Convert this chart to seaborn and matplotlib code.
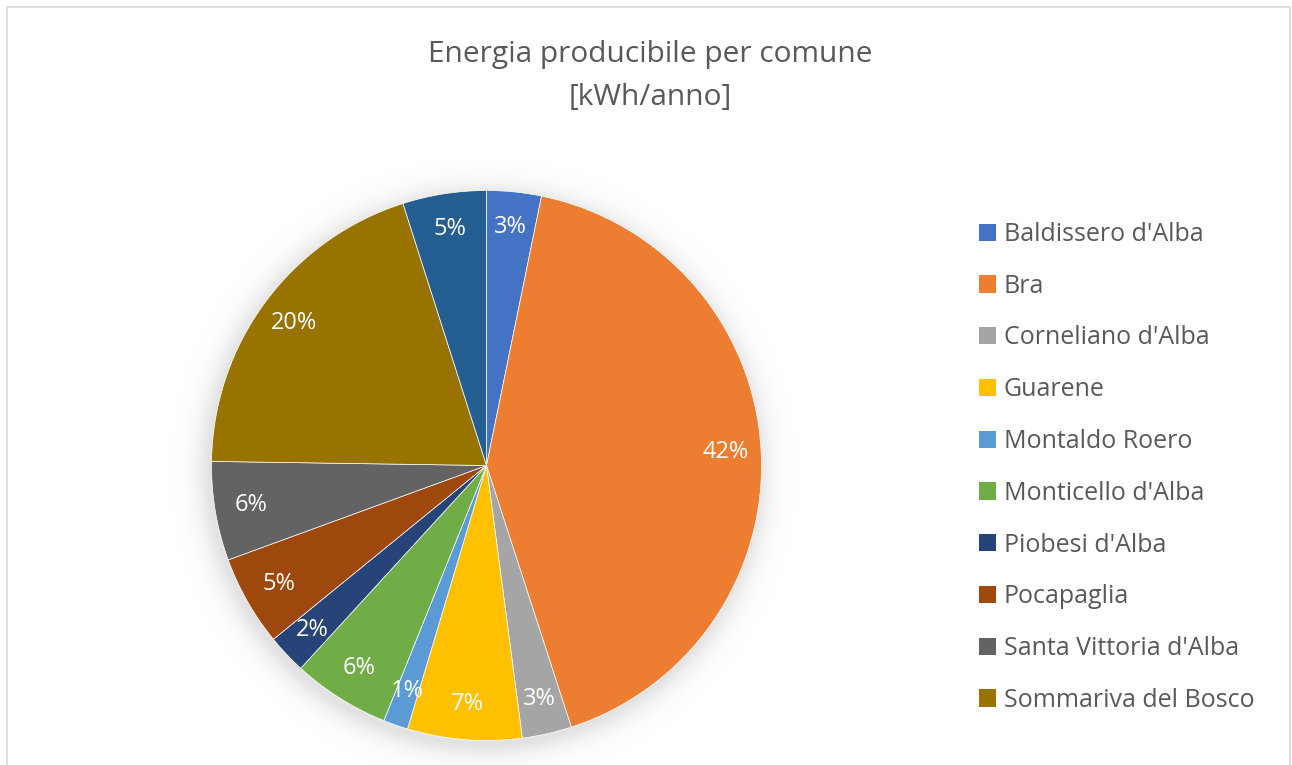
import numpy as np
import matplotlib
matplotlib.use("Agg")
import matplotlib.pyplot as plt
import matplotlib.patches as mpatches
import seaborn as sns

categories = ["Baldissero d'Alba", "Bra", "Corneliano d'Alba", "Guarene",
              "Montaldo Roero", "Monticello d'Alba", "Piobesi d'Alba",
              "Pocapaglia", "Santa Vittoria d'Alba", "Sommariva del Bosco",
              "Sommariva Perno"]
values = [3.2, 41.7, 2.9, 6.7, 1.45, 5.7, 2.3, 5.3, 5.8, 19.8, 4.9]
legend_shown = 10
title_text = "Energia producibile per comune\n[kWh/anno]"

colors = ["#4472C4", "#ED7D31", "#A5A5A5", "#FFC000", "#5B9BD5", "#70AD47",
          "#264478", "#9E480E", "#636363", "#997300", "#255E91"]

sns.set_theme(style="white")
palette = sns.color_palette(colors)
FONT = ["Open Sans", "DejaVu Sans"]
plt.rcParams['font.family'] = FONT
TXT = "#595959"

W, H = 1292, 765
fig = plt.figure(figsize=(W / 100, H / 100), dpi=100)
fig.patch.set_facecolor("white")

# chart border
fig.patches.append(mpatches.Rectangle((7 / W, -0.01), (1290 - 7) / W, (H - 7) / H + 0.01,
                                      transform=fig.transFigure, fill=False,
                                      edgecolor="#D9D9D9", linewidth=1.2))

# pie axes
R = 275
cx, cy = 486.5, 465.5
lim = 1.2
half = R * lim
ax = fig.add_axes([(cx - half) / W, (H - cy - half) / H, 2 * half / W, 2 * half / H])

total = sum(values)
wedges, texts = ax.pie(values, colors=palette, startangle=90, counterclock=False,
                       radius=1.0, wedgeprops=dict(edgecolor="white", linewidth=0.5))
for w in wedges:
    w.set_zorder(2)

# soft shadow
n = 700
g = np.linspace(-lim, lim, n)
X, Y = np.meshgrid(g, g)
Xs, Ys = X + 0.012, Y + 0.02
r = np.sqrt(Xs ** 2 + Ys ** 2)
alpha = np.where(r > 1, 0.2 * np.exp(-((r - 1) / 0.05) ** 1.3), 0.2)
img = np.zeros((n, n, 4))
img[..., :3] = 0.45
img[..., 3] = alpha
ax.imshow(img, extent=(-lim, lim, -lim, lim), origin="lower", zorder=0, interpolation="bilinear")

ax.set_xlim(-lim, lim)
ax.set_ylim(-lim, lim)
ax.set_aspect("equal")
ax.axis("off")

# percentage labels
start = 90.0
for v in values:
    ang = start - v / total * 360 / 2
    start -= v / total * 360
    d = 0.87
    x = d * np.cos(np.radians(ang))
    y = d * np.sin(np.radians(ang))
    ax.text(x, y, f"{round(v / total * 100):d}%", ha="center", va="center",
            color="white", fontsize=17, zorder=3)

# title
fig.text(650 / W, 1 - 76 / H, title_text, ha="center", va="center",
         fontsize=21.5, color=TXT, linespacing=1.6)

# legend
handles = [mpatches.Patch(facecolor=palette[i], edgecolor="none")
           for i in range(legend_shown)]
leg = fig.legend(handles, categories[:legend_shown], loc="upper left",
                 bbox_to_anchor=(969 / W, 1 - 212 / H), frameon=False,
                 fontsize=18, handlelength=0.68, handleheight=0.68,
                 handletextpad=0.3, labelspacing=1.07, borderaxespad=0)
for t in leg.get_texts():
    t.set_color(TXT)

fig.savefig("out.png", dpi=100, facecolor="white")
